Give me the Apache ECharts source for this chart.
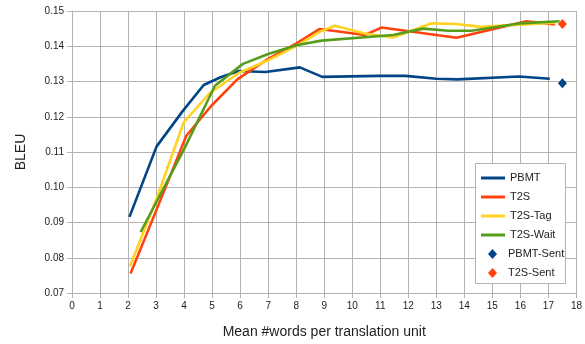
<!DOCTYPE html>
<html>
<head>
<meta charset="utf-8">
<script src="https://cdn.jsdelivr.net/npm/echarts@6/dist/echarts.min.js"></script>
<style>
html,body{margin:0;padding:0;background:#fff;}
#chart{width:585px;height:344px;}
</style>
</head>
<body>
<div id="chart"></div>
<script>
// ---- data ----
var pbmtX = [2.05, 3.02, 3.95, 4.7, 5.3, 5.95, 6.9, 8.13, 8.93, 10.95, 11.9, 13.0, 13.75, 15.95, 17.05];
var pbmtY = [0.0916, 0.1116, 0.1216, 0.1290, 0.1312, 0.1330, 0.1327, 0.1340, 0.1313, 0.1316, 0.1316, 0.1308, 0.1306, 0.1314, 0.1308];

var t2sX = [2.09, 3.0, 4.08, 4.98, 5.9, 6.94, 8.01, 8.84, 10.45, 11.04, 13.72, 16.22, 17.23];
var t2sY = [0.0755, 0.0933, 0.1146, 0.1232, 0.1306, 0.1361, 0.1408, 0.1449, 0.1432, 0.1453, 0.1424, 0.1471, 0.1462];

var tagX = [2.07, 3.02, 3.98, 4.9, 5.95, 6.94, 7.95, 8.84, 9.38, 10.45, 11.46, 12.83, 13.72, 14.61, 17.23];
var tagY = [0.0776, 0.0968, 0.1183, 0.1266, 0.1324, 0.1358, 0.1398, 0.1441, 0.1458, 0.1436, 0.1425, 0.1465, 0.1463, 0.1455, 0.1467];

var waitX = [2.45, 4.0, 5.1, 6.1, 7.0, 8.01, 8.9, 11.46, 12.53, 13.42, 14.25, 16.0, 17.4];
var waitY = [0.0873, 0.1108, 0.1288, 0.1350, 0.1378, 0.1403, 0.1416, 0.1432, 0.1450, 0.1444, 0.1444, 0.1465, 0.1471];

var sentX = [17.5];
var pbmtSentY = [0.1295];
var t2sSentY = [0.1463];

var seriesNames = ['PBMT', 'T2S', 'T2S-Tag', 'T2S-Wait', 'PBMT-Sent', 'T2S-Sent'];
var xTicks = {min: 0, max: 18, interval: 1};
var yTicks = {min: 0.07, max: 0.15, interval: 0.01};
// ---------------------------------------

function pairs(xs, ys) { return xs.map(function (x, i) { return [x, ys[i]]; }); }

var colors = ['#004586', '#ff420e', '#ffd320', '#579d1c', '#004586', '#ff420e'];
var FONT = 'Liberation Sans';
var gridColor = '#b3b3b3';

function lineSeries(name, xs, ys, color) {
  return {
    name: name, type: 'line', data: pairs(xs, ys),
    showSymbol: false, symbol: 'none',
    lineStyle: {color: color, width: 2.6},
    itemStyle: {color: color},
    z: 3
  };
}
function dotSeries(name, xs, ys, color) {
  return {
    name: name, type: 'scatter', data: pairs(xs, ys),
    symbol: 'diamond', symbolSize: [9, 10],
    itemStyle: {color: color, opacity: 1},
    z: 4
  };
}

var chart = echarts.init(document.getElementById('chart'), null, {renderer: 'canvas'});
chart.setOption({
  animation: false,
  backgroundColor: '#fff',
  textStyle: {fontFamily: FONT},
  grid: {left: 72, right: 8, top: 11, bottom: 51, containLabel: false},
  xAxis: {
    type: 'value', min: xTicks.min, max: xTicks.max, interval: xTicks.interval,
    name: 'Mean #words per translation unit', nameLocation: 'middle', nameGap: 32,
    nameTextStyle: {fontFamily: FONT, fontSize: 14, color: '#222'},
    axisLine: {show: true, onZero: false, lineStyle: {color: gridColor, width: 1}},
    axisTick: {show: true, length: 5, lineStyle: {color: gridColor}},
    axisLabel: {fontFamily: FONT, fontSize: 10, color: '#222', margin: 8},
    splitLine: {show: true, lineStyle: {color: gridColor, width: 1}}
  },
  yAxis: {
    type: 'value', min: yTicks.min, max: yTicks.max, interval: yTicks.interval,
    name: 'BLEU', nameLocation: 'middle', nameGap: 44, nameRotate: 90,
    nameTextStyle: {fontFamily: FONT, fontSize: 14, color: '#222'},
    axisLine: {show: true, onZero: false, lineStyle: {color: gridColor, width: 1}},
    axisTick: {show: true, length: 5, lineStyle: {color: gridColor}},
    axisLabel: {fontFamily: FONT, fontSize: 10, color: '#222', margin: 8,
      formatter: function (v) { return v.toFixed(2); }},
    splitLine: {show: true, lineStyle: {color: gridColor, width: 1}}
  },
  graphic: [{
    type: 'rect', z: 1,
    shape: {x: 475.5, y: 163.5, width: 90, height: 120},
    style: {fill: '#fff', stroke: gridColor, lineWidth: 1}
  }],
  legend: [{
    data: seriesNames.slice(0, 4),
    orient: 'vertical', left: 476, top: 166,
    icon: 'rect', itemWidth: 24, itemHeight: 3, itemGap: 5,
    selectedMode: false,
    textStyle: {fontFamily: FONT, fontSize: 11, color: '#222', lineHeight: 14}
  }, {
    data: seriesNames.slice(4),
    orient: 'vertical', left: 483, top: 242,
    icon: 'diamond', itemWidth: 9, itemHeight: 10, itemGap: 5,
    selectedMode: false,
    textStyle: {fontFamily: FONT, fontSize: 11, color: '#222', lineHeight: 14, padding: [0, 0, 0, 6]}
  }],
  series: [
    lineSeries(seriesNames[0], pbmtX, pbmtY, colors[0]),
    lineSeries(seriesNames[1], t2sX, t2sY, colors[1]),
    lineSeries(seriesNames[2], tagX, tagY, colors[2]),
    lineSeries(seriesNames[3], waitX, waitY, colors[3]),
    dotSeries(seriesNames[4], sentX, pbmtSentY, colors[4]),
    dotSeries(seriesNames[5], sentX, t2sSentY, colors[5])
  ]
});
</script>
</body>
</html>
